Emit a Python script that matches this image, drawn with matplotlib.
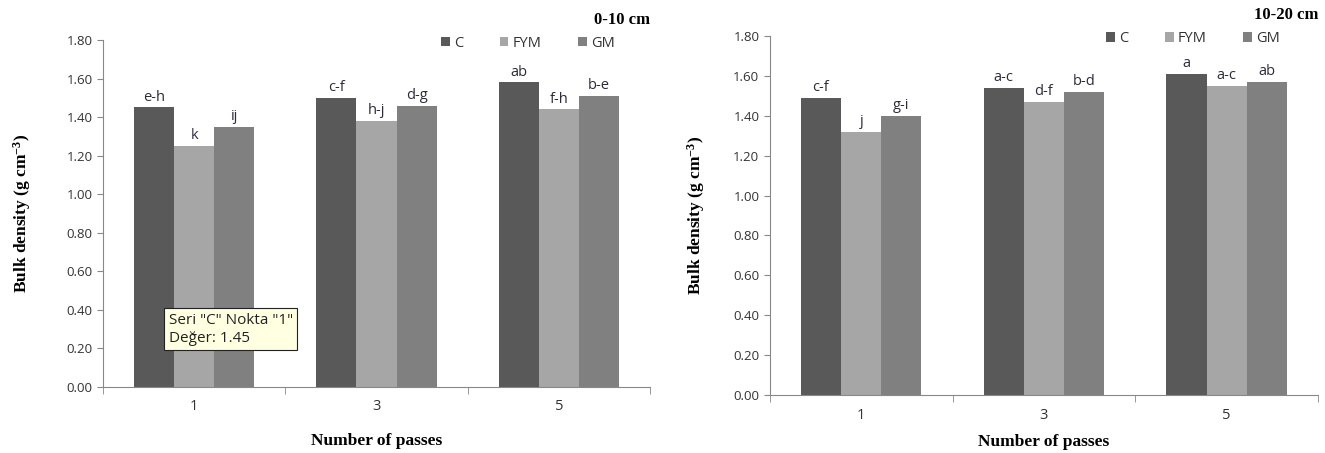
import matplotlib.pyplot as plt
import numpy as np

passes = ["1", "3", "5"]
series = ["C", "FYM", "GM"]

# 0-10 cm
top_c = [1.45, 1.50, 1.58]
top_fym = [1.25, 1.38, 1.44]
top_gm = [1.35, 1.46, 1.51]
top_letters = [["e-h", "c-f", "ab"], ["k", "h-j", "f-h"], ["ij", "d-g", "b-e"]]

# 10-20 cm
sub_c = [1.49, 1.54, 1.61]
sub_fym = [1.32, 1.47, 1.55]
sub_gm = [1.40, 1.52, 1.57]
sub_letters = [["c-f", "a-c", "a"], ["j", "d-f", "a-c"], ["g-i", "b-d", "ab"]]

colors = ["#595959", "#a6a6a6", "#808080"]
sans = "Open Sans"
serif = "Liberation Serif"
plt.rcParams["mathtext.fontset"] = "custom"
plt.rcParams["mathtext.rm"] = "Liberation Serif:bold"
plt.rcParams["mathtext.it"] = "Liberation Serif:bold"


def panel(ax, vals, letters, depth, ylpad, xlpad, legx):
    x = np.arange(len(passes))
    w = 0.22
    for i, (v, name) in enumerate(zip(vals, series)):
        pos = x + (i - 1) * w
        ax.bar(pos, v, w, color=colors[i], label=name)
        for p, h, lab in zip(pos, v, letters[i]):
            ax.text(p, h + 0.015, lab, ha="center", va="bottom",
                    fontsize=10.5, family=sans, color="#2b2b3a")
    ax.set_xlim(-0.5, 2.5)
    ax.set_ylim(0, 1.8)
    ax.set_yticks(np.arange(0, 1.81, 0.2))
    ax.set_yticklabels([f"{t:.2f}" for t in np.arange(0, 1.81, 0.2)],
                       family=sans, fontsize=9.5, color="#333333")
    ax.set_xticks(x)
    ax.set_xticklabels(passes, family=sans, fontsize=10.5, color="#333333")
    ax.tick_params(axis="x", length=0, pad=9)
    ax.set_xticks([-0.5, 0.5, 1.5, 2.5], minor=True)
    ax.tick_params(axis="x", which="minor", length=5, color="#888888")
    ax.tick_params(axis="y", length=4, color="#888888")
    for s in ["top", "right"]:
        ax.spines[s].set_visible(False)
    for s in ["left", "bottom"]:
        ax.spines[s].set_color("#888888")
    ax.set_ylabel("Bulk density (g cm$^{-3}$)", family=serif, fontweight="bold",
                  fontsize=12.5, labelpad=ylpad)
    ax.set_xlabel("Number of passes", family=serif, fontweight="bold",
                  fontsize=12.5, labelpad=xlpad)
    leg = ax.legend(ncol=3, frameon=False, loc="upper right",
                    bbox_to_anchor=(legx, 1.05), handlelength=0.6, handleheight=0.6,
                    handletextpad=0.3, columnspacing=2.5,
                    prop={"family": sans, "size": 10.5})
    for t in leg.get_texts():
        t.set_color("#333333")
    ax.text(1.0, 1.035, depth, transform=ax.transAxes, ha="right", va="bottom",
            family=serif, fontweight="bold", fontsize=12)


fig = plt.figure(figsize=(13.25, 4.53), dpi=100)
ax1 = fig.add_axes([0.0777, 0.1457, 0.4129, 0.766])
ax2 = fig.add_axes([0.581, 0.128, 0.4137, 0.7925])

panel(ax1, [top_c, top_fym, top_gm], top_letters, "0-10 cm", 24, 13, 0.96)
panel(ax2, [sub_c, sub_fym, sub_gm], sub_letters, "10-20 cm", 19, 8, 0.955)

ax1.text(-0.14, 0.385, 'Seri "C" Nokta "1"\nDeğer: 1.45', ha="left", va="top",
         family=sans, fontsize=11, color="#222222", linespacing=1.25,
         bbox=dict(boxstyle="square,pad=0.3", facecolor="#ffffe1", edgecolor="#222222", lw=0.8))

fig.savefig("out.png", dpi=100)
